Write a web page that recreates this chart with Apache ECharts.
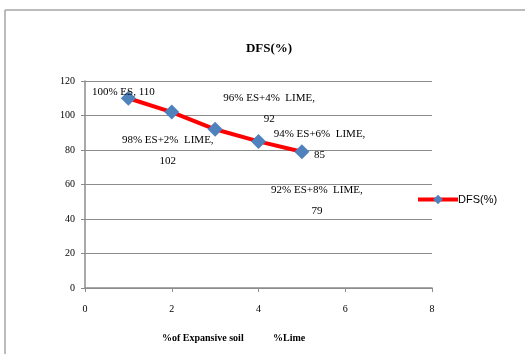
<!DOCTYPE html>
<html>
<head>
<meta charset="utf-8">
<script src="https://cdn.jsdelivr.net/npm/echarts@6/dist/echarts.min.js"></script>
<style>html,body{margin:0;padding:0;background:#fff;}#c{width:525px;height:354px;}</style>
</head>
<body>
<div id="c"></div>
<script>
// Data
var xValues = [1, 2, 3, 4, 5];
var dfsValues = [110, 102, 92, 85, 79];
var mixLabels = ['100% ES, 110', '98% ES+2%  LIME,\n102', '96% ES+4%  LIME,\n92', '94% ES+6%  LIME,\n85', '92% ES+8%  LIME,\n79'];
var xTicks = [0, 2, 4, 6, 8];
var yTicks = [0, 20, 40, 60, 80, 100, 120];
var seriesName = 'DFS(%)';

// Layout (label offsets from their points, in pixels)
var labelOffsets = [[-5, -6], [-4, 39], [54, -21], [61, 3], [15, 49]];

var serif = '"Liberation Serif", "DejaVu Serif", serif';
var chart = echarts.init(document.getElementById('c'), null, {renderer: 'canvas'});
var data = xValues.map(function (x, i) {
  return {
    value: [x, dfsValues[i]],
    label: {offset: labelOffsets[i], formatter: mixLabels[i]}
  };
});
chart.setOption({
  animation: false,
  backgroundColor: '#fff',
  title: {
    text: 'DFS(%)', left: 264, top: 37, textAlign: 'center',
    textStyle: {fontFamily: serif, fontSize: 13, fontWeight: 'bold', color: '#000'}
  },
  legend: {
    left: 411, top: 189, itemWidth: 40, itemHeight: 12, itemGap: 2,
    data: [seriesName],
    lineStyle: {width: 4, color: '#ff0000'},
    textStyle: {fontFamily: '"Liberation Sans", Arial, sans-serif', fontSize: 11, color: '#000', padding: [0, 0, 0, -5]}
  },
  grid: {left: 85, right: 93, top: 81, bottom: 66, containLabel: false},
  xAxis: {
    type: 'value', min: xTicks[0], max: xTicks[xTicks.length - 1], interval: 2,
    axisLine: {show: true, lineStyle: {color: '#8c8c8c', width: 1.5}},
    axisTick: {show: true, length: 4, lineStyle: {color: '#8c8c8c'}},
    splitLine: {show: false},
    axisLabel: {margin: 16, fontFamily: serif, fontSize: 10, color: '#000'}
  },
  yAxis: {
    type: 'value', min: yTicks[0], max: yTicks[yTicks.length - 1], interval: 20,
    axisLine: {show: true, lineStyle: {color: '#8c8c8c', width: 1.5}},
    axisTick: {show: true, length: 4, lineStyle: {color: '#8c8c8c'}},
    splitLine: {show: true, lineStyle: {color: '#8c8c8c', width: 1.2}},
    axisLabel: {margin: 10, fontFamily: serif, fontSize: 10, color: '#000'}
  },
  graphic: [
    {type: 'line', shape: {x1: 5, y1: 10, x2: 525, y2: 10}, style: {stroke: '#a6a6a6', lineWidth: 1.5}},
    {type: 'line', shape: {x1: 5, y1: 10, x2: 5, y2: 354}, style: {stroke: '#a6a6a6', lineWidth: 1.5}},
    {type: 'text', left: 162, top: 333, style: {text: '%of Expansive soil', font: 'bold 10px ' + serif, fill: '#000'}},
    {type: 'text', left: 273, top: 333, style: {text: '%Lime', font: 'bold 10px ' + serif, fill: '#000'}}
  ],
  series: [{
    name: seriesName,
    type: 'line',
    data: data,
    symbol: 'diamond',
    symbolSize: 15,
    itemStyle: {color: '#4f81bd'},
    lineStyle: {color: '#ff0000', width: 4},
    label: {
      show: true, position: 'inside', align: 'center', verticalAlign: 'middle',
      fontFamily: serif, fontSize: 11, color: '#000', lineHeight: 21
    }
  }]
});
</script>
</body>
</html>
